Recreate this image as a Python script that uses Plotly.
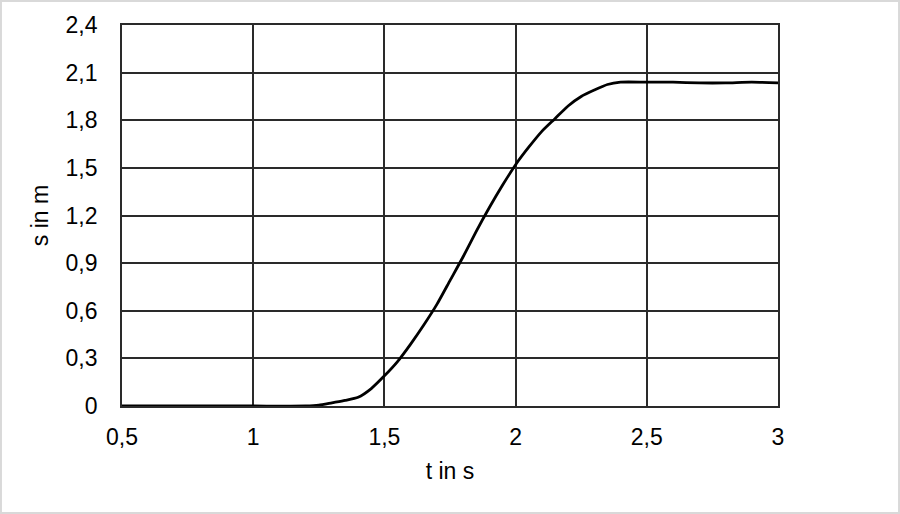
import plotly.graph_objects as go

t_vals = [0.5, 0.8, 1.0, 1.2, 1.25, 1.3, 1.35, 1.4, 1.45, 1.5, 1.55, 1.6, 1.65, 1.7, 1.75, 1.8,
          1.85, 1.9, 1.95, 2.0, 2.05, 2.1, 2.15, 2.2, 2.25, 2.3, 2.35, 2.4, 2.5, 2.6, 2.7,
          2.8, 2.9, 3.0]
s_vals = [0, 0, 0, 0, 0.005, 0.02, 0.035, 0.055, 0.11, 0.19, 0.28, 0.39, 0.51, 0.64, 0.79, 0.94,
          1.10, 1.25, 1.39, 1.52, 1.63, 1.73, 1.81, 1.89, 1.95, 1.99, 2.025, 2.04, 2.04, 2.04, 2.035,
          2.035, 2.04, 2.035]

x_ticks = [0.5, 1, 1.5, 2, 2.5, 3]
x_labels = ["0,5", "1", "1,5", "2", "2,5", "3"]
y_ticks = [0, 0.3, 0.6, 0.9, 1.2, 1.5, 1.8, 2.1, 2.4]
y_labels = ["0", "0,3", "0,6", "0,9", "1,2", "1,5", "1,8", "2,1", "2,4"]

fig = go.Figure()
fig.add_trace(go.Scatter(x=t_vals, y=s_vals, mode="lines",
                         line=dict(color="black", width=2.8, shape="spline", smoothing=0.6),
                         showlegend=False, hoverinfo="skip"))

font = dict(family="Liberation Sans, Arial, sans-serif", size=23, color="black")
grid = "#2a2a2a"
fig.update_layout(
    width=900, height=514,
    margin=dict(l=122, r=122, t=25, b=108),
    paper_bgcolor="white", plot_bgcolor="white",
    font=font,
    xaxis=dict(range=[0.5, 3], tickvals=x_ticks, ticktext=x_labels,
               showgrid=True, gridcolor=grid, gridwidth=1.5,
               showline=True, linecolor=grid, linewidth=1.8, mirror=True,
               zeroline=False, ticks="", ticklen=0, tickfont=font,
               ticklabelstandoff=9,
               title=dict(text="t in s", font=font, standoff=14)),
    yaxis=dict(range=[0, 2.4], tickvals=y_ticks, ticktext=y_labels,
               showgrid=True, gridcolor=grid, gridwidth=1.5,
               showline=True, linecolor=grid, linewidth=1.8, mirror=True,
               zeroline=False, ticks="", ticklen=0, tickfont=font,
               ticklabelstandoff=18,
               title=dict(text="s in m", font=font, standoff=10)),
    shapes=[dict(type="rect", xref="paper", yref="paper",
                 x0=-0.1845, x1=1.1845, y0=-0.281, y1=1.063,
                 line=dict(color="#d9d9d9", width=2), layer="below")],
)
fig.write_html("out.html", config={"displayModeBar": False},
               post_script="document.body.style.margin='0';")
